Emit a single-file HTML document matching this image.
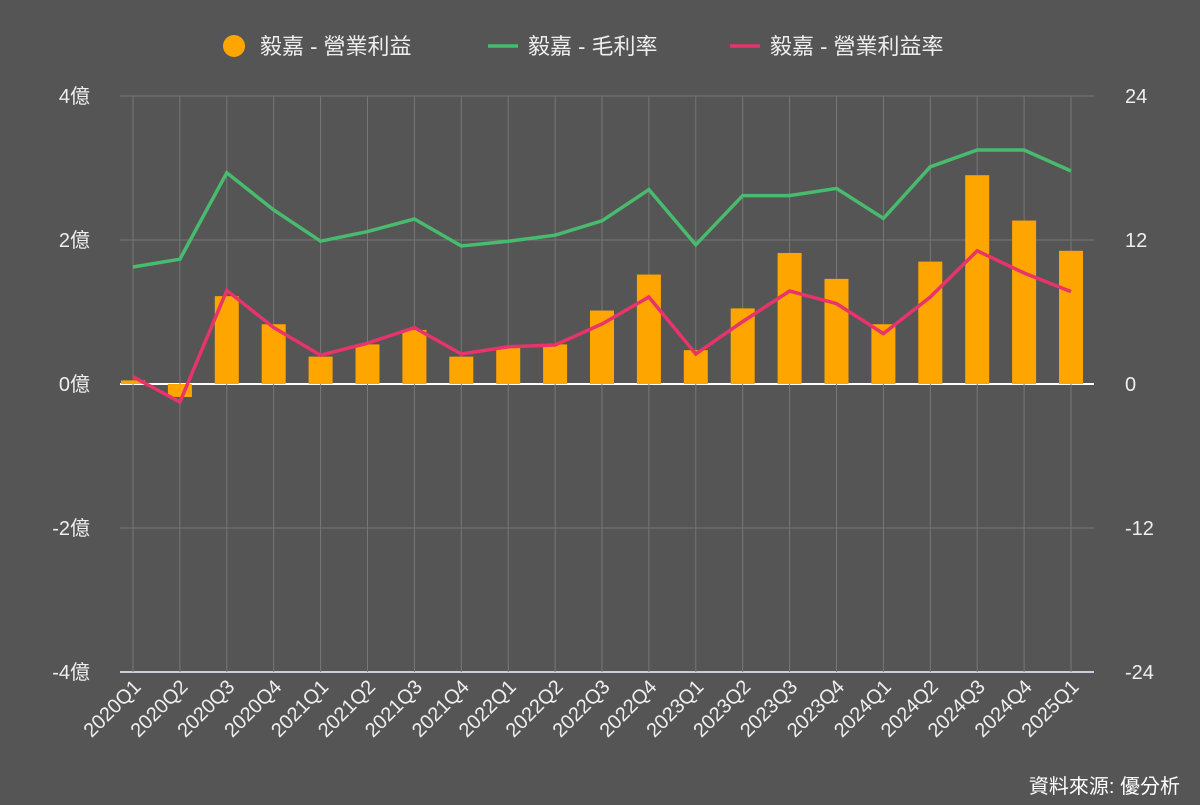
<!DOCTYPE html>
<html><head><meta charset="utf-8"><style>
body{margin:0;background:#555;}
svg text{font-family:"Liberation Sans","Noto Sans CJK TC",sans-serif;}
</style></head><body>
<svg id="c" width="1200" height="800" viewBox="0 0 1200 800">
<rect width="1200" height="800" fill="#555"/>
<g id="grid"></g><g id="bars"></g><g id="lines"></g><g id="axes"></g>
<g>
 <g><circle cx="234" cy="46" r="11" fill="#ffa500"/><text x="260" y="54" fill="#eee" font-size="22">毅嘉 - 營業利益</text></g>
 <g><line x1="488" y1="46" x2="518" y2="46" stroke="#48bb6f" stroke-width="3.5"/><text x="528" y="54" fill="#eee" font-size="22">毅嘉 - 毛利率</text></g>
 <g><line x1="730" y1="46" x2="760" y2="46" stroke="#e8336b" stroke-width="3.5"/><text x="770" y="54" fill="#eee" font-size="22">毅嘉 - 營業利益率</text></g>
</g>
<text x="1180" y="793" text-anchor="end" fill="#fff" font-size="20">資料來源: 優分析</text>
</svg>
<script>
const categories=["2020Q1","2020Q2","2020Q3","2020Q4","2021Q1","2021Q2","2021Q3","2021Q4","2022Q1","2022Q2","2022Q3","2022Q4","2023Q1","2023Q2","2023Q3","2023Q4","2024Q1","2024Q2","2024Q3","2024Q4","2025Q1"];
const operatingIncome=[0.05,-0.18,1.22,0.83,0.38,0.55,0.75,0.38,0.5,0.55,1.02,1.52,0.47,1.05,1.82,1.46,0.83,1.7,2.9,2.27,1.85];
const grossMargin=[9.75,10.4,17.6,14.5,11.9,12.7,13.75,11.5,11.9,12.4,13.6,16.2,11.6,15.7,15.7,16.3,13.8,18.1,19.5,19.5,17.75];
const operatingMargin=[0.6,-1.5,7.8,4.7,2.4,3.4,4.7,2.5,3.1,3.25,5,7.25,2.5,5.2,7.75,6.7,4.2,7.25,11.1,9.25,7.7];
const leftTicks=[4,2,0,-2,-4];
const rightTicks=[24,12,0,-12,-24];
const NS="http://www.w3.org/2000/svg";
const X0=133,XSTEP=46.9,TOP=96,BOT=672,L=120,R=1094;
const x=i=>X0+i*XSTEP;
const yL=v=>384-v*72;
const yR=v=>384-v*12;
function mk(t,a,p){const e=document.createElementNS(NS,t);for(const k in a)e.setAttribute(k,a[k]);p.appendChild(e);return e;}
const grid=document.getElementById('grid'),bars=document.getElementById('bars'),lines=document.getElementById('lines'),axes=document.getElementById('axes');
leftTicks.forEach((v,i)=>{
 const g=mk('line',{x1:L,x2:R,y1:yL(v),y2:yL(v),stroke:v==0?'#fff':(v==-4?'#c8cde0':'#777'),'stroke-width':v==0||v==-4?2:1},grid);
 
 
 const t=mk('text',{x:90,y:yL(v)+7,'text-anchor':'end',fill:'#eee','font-size':20},axes);t.textContent=v+'億';
 
 
 const t2=mk('text',{x:1125,y:yR(rightTicks[i])+7,fill:'#eee','font-size':20},axes);t2.textContent=rightTicks[i];
 
 
});
categories.forEach((c,i)=>{
 const g=mk('line',{x1:x(i),x2:x(i),y1:TOP,y2:BOT,stroke:'#777','stroke-width':1},grid);
 
 
 const t=mk('text',{x:x(i)+9,y:BOT+16,'text-anchor':'end',fill:'#eee','font-size':20,transform:`rotate(-45 ${x(i)+9} ${BOT+16})`},axes);t.textContent=c;
 
 
 const v=operatingIncome[i];
 const b=mk('rect',{x:x(i)-12,width:24,y:Math.min(yL(v),yL(0)),height:Math.abs(yL(v)-yL(0)),fill:'#ffa500'},bars);
 
 
});
const gl=mk('polyline',{points:grossMargin.map((v,i)=>x(i)+','+yR(v)).join(' '),fill:'none',stroke:'#48bb6f','stroke-width':3.5},lines);


const pl=mk('polyline',{points:operatingMargin.map((v,i)=>x(i)+','+yR(v)).join(' '),fill:'none',stroke:'#e8336b','stroke-width':3.5},lines);


</script>
</body></html>
